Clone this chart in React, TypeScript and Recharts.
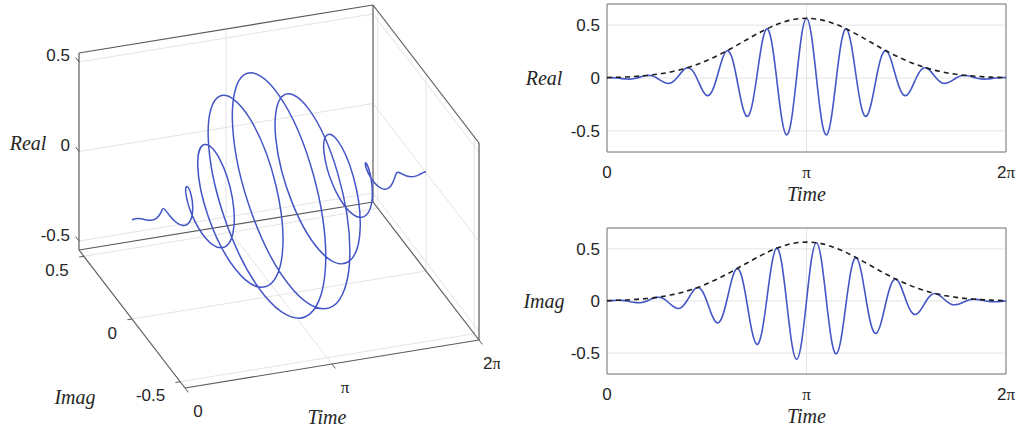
import React from "react";
import {
  LineChart,
  Line,
  XAxis,
  YAxis,
  CartesianGrid,
  ReferenceLine,
  ReferenceArea,
  ReferenceDot,
} from "recharts";

// time samples, in multiples of pi
const timeFrac = [
  0, 0.025, 0.05, 0.075, 0.1, 0.125, 0.15, 0.175, 0.2, 0.225,
  0.25, 0.275, 0.3, 0.325, 0.35, 0.375, 0.4, 0.425, 0.45, 0.475,
  0.5, 0.525, 0.55, 0.575, 0.6, 0.625, 0.65, 0.675, 0.7, 0.725,
  0.75, 0.775, 0.8, 0.825, 0.85, 0.875, 0.9, 0.925, 0.95, 0.975,
  1, 1.025, 1.05, 1.075, 1.1, 1.125, 1.15, 1.175, 1.2, 1.225,
  1.25, 1.275, 1.3, 1.325, 1.35, 1.375, 1.4, 1.425, 1.45, 1.475,
  1.5, 1.525, 1.55, 1.575, 1.6, 1.625, 1.65, 1.675, 1.7, 1.725,
  1.75, 1.775, 1.8, 1.825, 1.85, 1.875, 1.9, 1.925, 1.95, 1.975,
  2,
];

const realPart = [
  0.004, 0.004, 0, -0.006, -0.01, -0.009, 0, 0.014, 0.024, 0.021,
  0, -0.03, -0.05, -0.042, 0, 0.058, 0.096, 0.078, 0, -0.103,
  -0.165, -0.131, 0, 0.164, 0.257, 0.2, 0, -0.237, -0.362, -0.275,
  0, 0.311, 0.464, 0.344, 0, -0.37, -0.538, -0.389, 0, 0.398,
  0.565,
  0.398, 0, -0.389, -0.538, -0.37, 0, 0.344, 0.464, 0.311, 0,
  -0.275, -0.362, -0.237, 0, 0.2, 0.257, 0.164, 0, -0.131, -0.165,
  -0.103, 0, 0.078, 0.096, 0.058, 0, -0.042, -0.05, -0.03, 0,
  0.021, 0.024, 0.014, 0, -0.009, -0.01, -0.006, 0, 0.004, 0.004,
];

const imagPart = [
  0, 0.004, 0.007, 0.006, 0, -0.009, -0.016, -0.014, 0, 0.021,
  0.035, 0.03, 0, -0.042, -0.07, -0.058, 0, 0.078, 0.127, 0.103,
  0, -0.131, -0.208, -0.164, 0, 0.2, 0.309, 0.237, 0, -0.275,
  -0.415, -0.311, 0, 0.344, 0.506, 0.37, 0, -0.389, -0.558, -0.398,
  0,
  0.398, 0.558, 0.389, 0, -0.37, -0.506, -0.344, 0, 0.311, 0.415,
  0.275, 0, -0.237, -0.309, -0.2, 0, 0.164, 0.208, 0.131, 0,
  -0.103, -0.127, -0.078, 0, 0.058, 0.07, 0.042, 0, -0.03, -0.035,
  -0.021, 0, 0.014, 0.016, 0.009, 0, -0.006, -0.007, -0.004, 0,
];

const envelope = [
  0.004, 0.005, 0.007, 0.008, 0.01, 0.013, 0.016, 0.02, 0.024, 0.029,
  0.035, 0.042, 0.05, 0.06, 0.07, 0.082, 0.096, 0.111, 0.127, 0.145,
  0.165, 0.186, 0.208, 0.232, 0.257, 0.282, 0.309, 0.336, 0.362, 0.389,
  0.415, 0.44, 0.464, 0.486, 0.506, 0.523, 0.538, 0.55, 0.558, 0.563,
  0.565,
  0.563, 0.558, 0.55, 0.538, 0.523, 0.506, 0.486, 0.464, 0.44, 0.415,
  0.389, 0.362, 0.336, 0.309, 0.282, 0.257, 0.232, 0.208, 0.186, 0.165,
  0.145, 0.127, 0.111, 0.096, 0.082, 0.07, 0.06, 0.05, 0.042, 0.035,
  0.029, 0.024, 0.02, 0.016, 0.013, 0.01, 0.008, 0.007, 0.005, 0.004,
];

const valueTicks = [-0.5, 0, 0.5];
const valueTickLabels = ["-0.5", "0", "0.5"];
const timeTickFrac = [0, 1, 2];
const timeTickLabels = ["0", "π", "2π"];

const BLUE = "#4456c6";
const TEXT = "#262626";
const EDGE = "#5a5a5a";
const GRID = "#e4e4e4";
const SANS = "'Liberation Sans', Arial, Helvetica, sans-serif";
const SERIF = "'Liberation Serif', 'Times New Roman', serif";

const T_END = 2 * Math.PI;
const LIM = 0.55;

const flatData = timeFrac.map((f, i) => ({
  t: f * Math.PI,
  re: realPart[i],
  im: imagPart[i],
  env: envelope[i],
}));

// --- 3d view: orthographic projection of (time, imag, real) onto the page ---
const ORIGIN = { x: 185, y: 388 }; // corner t=0, imag=-lim, real=-lim
const T_VEC = { x: 294, y: -48 };
const I_VEC = { x: -106, y: -138 };
const R_VEC = { x: 0, y: -197 };

function project(t: number, im: number, re: number) {
  const u = t / T_END;
  const v = (im + LIM) / (2 * LIM);
  const w = (re + LIM) / (2 * LIM);
  return {
    x: ORIGIN.x + T_VEC.x * u + I_VEC.x * v + R_VEC.x * w,
    y: ORIGIN.y + T_VEC.y * u + I_VEC.y * v + R_VEC.y * w,
  };
}

const helixData = timeFrac.map((f, i) => project(f * Math.PI, imagPart[i], realPart[i]));

type P3 = [number, number, number];
const L = LIM;
const PI = Math.PI;

const boxEdges: [P3, P3][] = [
  [[0, L, -L], [0, L, L]],
  [[0, L, L], [T_END, L, L]],
  [[T_END, L, -L], [T_END, L, L]],
  [[0, L, -L], [T_END, L, -L]],
  [[T_END, L, L], [T_END, -L, L]],
  [[T_END, -L, L], [T_END, -L, -L]],
  [[T_END, L, -L], [T_END, -L, -L]],
  [[0, L, -L], [0, -L, -L]],
  [[0, -L, -L], [T_END, -L, -L]],
];

const gridEdges: [P3, P3][] = [
  [[PI, L, -L], [PI, L, L]],
  [[PI, -L, -L], [PI, L, -L]],
  ...valueTicks.map((r) => [[0, L, r], [T_END, L, r]] as [P3, P3]),
  ...valueTicks.map((i) => [[0, i, -L], [T_END, i, -L]] as [P3, P3]),
  ...valueTicks.map((i) => [[T_END, i, -L], [T_END, i, L]] as [P3, P3]),
  ...valueTicks.map((r) => [[T_END, -L, r], [T_END, L, r]] as [P3, P3]),
];

const tickEdges: [P3, P3][] = [
  ...valueTicks.map((r) => [[0, L, r], [0, L + 0.035, r]] as [P3, P3]),
  ...valueTicks.map((i) => [[0, i, -L], [-0.1, i, -L]] as [P3, P3]),
  ...timeTickFrac.map((f) => [[f * PI, -L, -L], [f * PI, -L - 0.035, -L]] as [P3, P3]),
];

function TimeText({ label }: { label: string }) {
  if (label === "0") return <tspan fontFamily={SANS}>0</tspan>;
  if (label === "π") return <tspan fontFamily={SERIF}>π</tspan>;
  return (
    <>
      <tspan fontFamily={SANS}>2</tspan>
      <tspan fontFamily={SERIF}>π</tspan>
    </>
  );
}

function makeLabel(content: React.ReactNode, dx: number, dy: number, anchor: string, opts: any = {}) {
  return (props: any) => {
    const vb = props.viewBox || { x: 0, y: 0, width: 0, height: 0 };
    const cx = vb.x + (vb.width || 0) / 2;
    const cy = vb.y + (vb.height || 0) / 2;
    return (
      <text
        x={cx + dx}
        y={cy + dy}
        textAnchor={anchor}
        dominantBaseline="central"
        fill={TEXT}
        fontFamily={opts.family || SANS}
        fontStyle={opts.italic ? "italic" : "normal"}
        fontSize={opts.size || 17}
      >
        {content}
      </text>
    );
  };
}

const segOf = (a: P3, b: P3) => [project(a[0], a[1], a[2]), project(b[0], b[1], b[2])];

function Helix3D() {
  const realTitle = project(0, L, 0);
  const imagTitle = project(0, 0, -L);
  const timeTitle = project(PI, -L, -L);
  return (
    <LineChart width={500} height={432} data={helixData} margin={{ top: 0, right: 0, bottom: 0, left: 0 }}>
      <XAxis type="number" dataKey="x" domain={[0, 500]} hide />
      <YAxis type="number" domain={[0, 432]} reversed hide />
      {gridEdges.map((e, k) => (
        <ReferenceLine key={"g" + k} segment={segOf(e[0], e[1])} stroke={GRID} strokeWidth={1} ifOverflow="visible" />
      ))}
      {boxEdges.map((e, k) => (
        <ReferenceLine key={"b" + k} segment={segOf(e[0], e[1])} stroke={EDGE} strokeWidth={1.2} ifOverflow="visible" />
      ))}
      {tickEdges.map((e, k) => (
        <ReferenceLine key={"t" + k} segment={segOf(e[0], e[1])} stroke={EDGE} strokeWidth={1} ifOverflow="visible" />
      ))}
      {valueTicks.map((r, k) => {
        const p = project(0, L, r);
        return (
          <ReferenceDot key={"rl" + k} x={p.x} y={p.y} r={1} fill="none" stroke="none" ifOverflow="visible"
            label={makeLabel(valueTickLabels[k], -9, -6, "end")} />
        );
      })}
      {valueTicks.map((i, k) => {
        const p = project(0, i, -L);
        return (
          <ReferenceDot key={"il" + k} x={p.x} y={p.y} r={1} fill="none" stroke="none" ifOverflow="visible"
            label={makeLabel(valueTickLabels[k], -15, 14, "end")} />
        );
      })}
      {timeTickFrac.map((f, k) => {
        const p = project(f * PI, -L, -L);
        return (
          <ReferenceDot key={"tl" + k} x={p.x} y={p.y} r={1} fill="none" stroke="none" ifOverflow="visible"
            label={makeLabel(<TimeText label={timeTickLabels[k]} />, 13, 23, "middle")} />
        );
      })}
      <ReferenceDot x={realTitle.x} y={realTitle.y} r={1} fill="none" stroke="none" ifOverflow="visible"
        label={makeLabel("Real", -51, -9, "middle", { family: SERIF, italic: true, size: 20 })} />
      <ReferenceDot x={imagTitle.x} y={imagTitle.y} r={1} fill="none" stroke="none" ifOverflow="visible"
        label={makeLabel("Imag", -57, 78, "middle", { family: SERIF, italic: true, size: 20 })} />
      <ReferenceDot x={timeTitle.x} y={timeTitle.y} r={1} fill="none" stroke="none" ifOverflow="visible"
        label={makeLabel("Time", -5, 53, "middle", { family: SERIF, italic: true, size: 20 })} />
      <Line
        type="natural"
        dataKey="y"
        stroke={BLUE}
        strokeWidth={1.5}
        dot={false}
        activeDot={false}
        isAnimationActive={false}
      />
    </LineChart>
  );
}

function FlatTick(props: any) {
  const { x, y, payload } = props;
  const k = timeTickFrac.findIndex((f) => Math.abs(f * PI - payload.value) < 1e-6);
  return (
    <text x={x} y={y} textAnchor="middle" dominantBaseline="central" fill={TEXT} fontSize={17}>
      <TimeText label={timeTickLabels[k] ?? ""} />
    </text>
  );
}

function FlatPanel({ title, dataKey, height, marginTop, axisHeight }: any) {
  return (
    <LineChart
      width={518}
      height={height}
      data={flatData}
      margin={{ top: marginTop, right: 12, bottom: 0, left: 0 }}
    >
      <CartesianGrid stroke={GRID} strokeWidth={1} />
      <XAxis
        type="number"
        dataKey="t"
        domain={[0, T_END]}
        ticks={timeTickFrac.map((f) => f * PI)}
        interval={0}
        tick={<FlatTick />}
        tickLine={false}
        axisLine={false}
        tickSize={0}
        tickMargin={20}
        height={axisHeight}
        label={makeLabel("Time", 0, 42 - axisHeight / 2, "middle", { family: SERIF, italic: true, size: 20 })}
      />
      <YAxis
        type="number"
        domain={[-0.7, 0.7]}
        ticks={valueTicks}
        interval={0}
        tickLine={false}
        axisLine={false}
        tickSize={0}
        tickMargin={7}
        width={107}
        tick={{ fill: TEXT, fontSize: 17, fontFamily: SANS }}
        label={makeLabel(title, 44 - 107 / 2, 0, "middle", { family: SERIF, italic: true, size: 20 })}
      />
      <ReferenceArea x1={0} x2={T_END} y1={-0.7} y2={0.7} fill="none" stroke="#7a7a7a" strokeWidth={1} ifOverflow="visible" />
      <Line
        type="natural"
        dataKey={dataKey}
        stroke={BLUE}
        strokeWidth={1.6}
        dot={false}
        activeDot={false}
        isAnimationActive={false}
      />
      <Line
        type="natural"
        dataKey="env"
        stroke="#1e1e1e"
        strokeWidth={1.6}
        strokeDasharray="5 4"
        dot={false}
        activeDot={false}
        isAnimationActive={false}
      />
    </LineChart>
  );
}

export default function App() {
  return (
    <div
      style={{
        position: "absolute",
        left: 0,
        top: 0,
        width: 1018,
        height: 432,
        background: "#fff",
        fontFamily: SANS,
      }}
    >
      <div style={{ position: "absolute", left: 0, top: 0 }}>
        <Helix3D />
      </div>
      <div style={{ position: "absolute", left: 500, top: 0 }}>
        <FlatPanel title="Real" dataKey="re" height={215} marginTop={4} axisHeight={63} />
      </div>
      <div style={{ position: "absolute", left: 500, top: 220 }}>
        <FlatPanel title="Imag" dataKey="im" height={212} marginTop={8} axisHeight={58} />
      </div>
    </div>
  );
}
